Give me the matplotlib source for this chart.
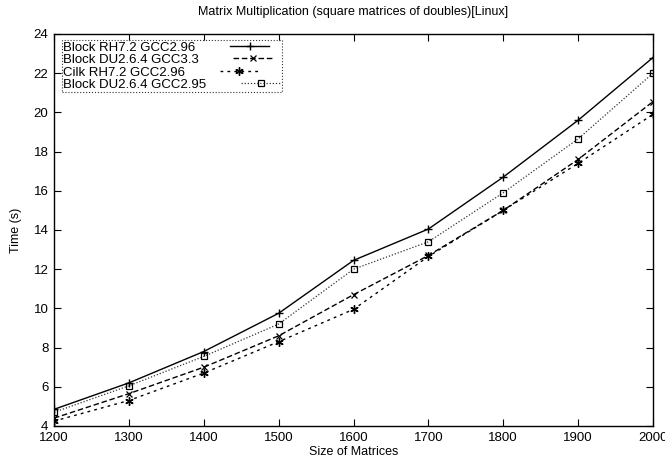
import numpy as np
import matplotlib
matplotlib.use("Agg")
import matplotlib.pyplot as plt

plt.rcParams['font.family'] = ['Liberation Sans', 'DejaVu Sans']

sizes = [1200, 1300, 1400, 1500, 1600, 1700, 1800, 1900, 2000]
block_rh72_gcc296 = [4.85, 6.2, 7.8, 9.75, 12.45, 14.05, 16.7, 19.6, 22.8]
block_du264_gcc33 = [4.4, 5.65, 7.0, 8.6, 10.7, 12.7, 15.0, 17.6, 20.55]
cilk_rh72_gcc296 = [4.25, 5.3, 6.7, 8.3, 9.95, 12.65, 15.0, 17.4, 19.9]
block_du264_gcc295 = [4.7, 6.05, 7.55, 9.2, 12.0, 13.4, 15.9, 18.65, 22.0]

fig = plt.figure(figsize=(6.65, 4.63), dpi=100)
ax = fig.add_axes([54 / 665, 1 - 426 / 463, 599 / 665, 392 / 463])

ax.plot(sizes, block_rh72_gcc296, color="black", lw=1.0, ls="-",
        marker="+", ms=6, mew=1.0, label="Block RH7.2 GCC2.96")
ax.plot(sizes, block_du264_gcc33, color="black", lw=1.0, ls=(0, (4, 2)),
        marker="x", ms=5, mew=0.9, label="Block DU2.6.4 GCC3.3")
ax.plot(sizes, cilk_rh72_gcc296, color="black", lw=1.0, ls=(0, (2, 3)),
        marker=(6, 2, 0), ms=6, mew=1.0, label="Cilk RH7.2 GCC2.96")
ax.plot(sizes, block_du264_gcc295, color="#333333", lw=0.9, ls=(0, (1, 1.5)),
        marker="s", ms=5, mew=0.9, mfc="none", mec="black",
        label="Block DU2.6.4 GCC2.95")

ax.set_xlim(1200, 2000)
ax.set_ylim(4, 24)
ax.set_xticks(np.arange(1200, 2001, 100))
ax.set_yticks(np.arange(4, 25, 2))
ax.tick_params(direction="in", top=True, right=True, labelsize=9.5, length=5, pad=4)
for s in ax.spines.values():
    s.set_linewidth(1.0)

ax.set_title("Matrix Multiplication (square matrices of doubles)[Linux]", fontsize=9, pad=14)
ax.set_xlabel("Size of Matrices", fontsize=9, labelpad=2)
ax.set_ylabel("Time (s)", fontsize=9, labelpad=8)

leg = ax.legend(loc="upper left", bbox_to_anchor=(8 / 599, 1 - 6 / 392),
                markerfirst=False, fontsize=9.5, frameon=True,
                fancybox=False, borderaxespad=0.0, handlelength=3.0,
                handletextpad=2.6, borderpad=0.1, labelspacing=0.02)
leg.get_frame().set_edgecolor("black")
leg.get_frame().set_linestyle(":")
leg.get_frame().set_linewidth(0.8)
# left-align legend labels (markerfirst=False right-aligns them)
for col in leg._legend_handle_box.get_children():
    col.align = "left"

fig.savefig("out.png", dpi=100)
